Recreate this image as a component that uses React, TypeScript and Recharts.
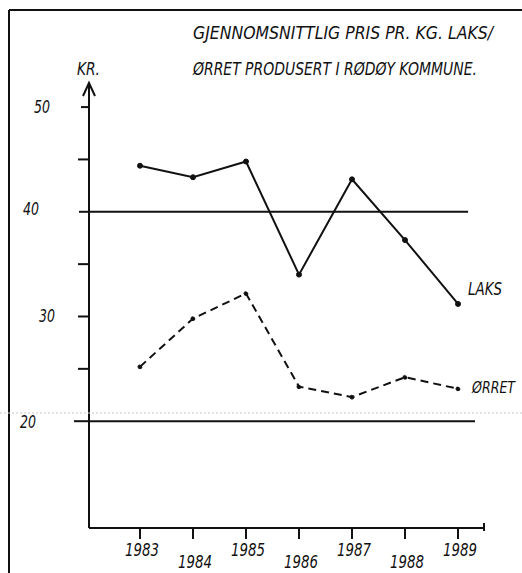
import React from 'react';
import { LineChart, Line, XAxis, YAxis, ReferenceLine, ReferenceDot } from 'recharts';

const years = [1983, 1984, 1985, 1986, 1987, 1988, 1989];
const laks = [44.4, 43.3, 44.8, 34.0, 43.1, 37.3, 31.2];
const orret = [25.2, 29.8, 32.2, 23.3, 22.3, 24.2, 23.1];
const yTicks = [20, 25, 30, 35, 40, 45, 50];
const yLabels = [20, 30, 40, 50];
const bandLines = [40, 20];
const titleLines = ['GJENNOMSNITTLIG PRIS PR. KG. LAKS/', 'ØRRET PRODUSERT I RØDØY KOMMUNE.'];
const unitLabel = 'KR.';
const seriesNames = ['LAKS', 'ØRRET'];

const X_DOMAIN: [number, number] = [1982.038, 1989.49];
const Y_DOMAIN: [number, number] = [9.8, 52.3];

const data = years.map((year, i) => ({ year, laks: laks[i], orret: orret[i] }));

const INK = '#111';
const FONT = "'Liberation Sans Narrow', 'DejaVu Sans Condensed', 'DejaVu Sans', sans-serif";

const textStyle = { fontFamily: FONT, fontStyle: 'italic' as const, fill: INK };

const YTick = (props: any) => {
  const { x, y, payload } = props;
  const v = payload.value;
  const lenMap: Record<number, number> = { 20: 15, 40: 10, 50: 8 };
  const len = lenMap[v] ?? 11;
  const dxMap: Record<number, number> = { 50: -47, 40: -58, 30: -42, 20: -61 };
  const dyMap: Record<number, number> = { 50: 6, 40: 3, 30: 6, 20: 7 };
  return (
    <g>
      <line x1={x - len} x2={x} y1={y} y2={y} stroke={INK} strokeWidth={2} />
      {yLabels.includes(v) && (
        <text x={x + dxMap[v]} y={y + dyMap[v]} textAnchor="middle" fontSize={18.5} textLength={16} lengthAdjust="spacingAndGlyphs" style={textStyle}>
          {v}
        </text>
      )}
    </g>
  );
};

const XTick = (props: any) => {
  const { x, y, payload, index } = props;
  const low = index % 2 === 1;
  return (
    <text x={x + 2} y={y + (low ? 29 : 17)} textAnchor="middle" fontSize={18} textLength={34} lengthAdjust="spacingAndGlyphs" style={textStyle}>
      {payload.value}
    </text>
  );
};

const ArrowHead = (props: any) => {
  const { cx, cy } = props;
  return <path d={`M${cx - 6},${cy + 13} L${cx},${cy} L${cx + 6},${cy + 13}`} fill="none" stroke={INK} strokeWidth={2} />;
};

const EndTick = (props: any) => {
  const { cx, cy } = props;
  return <line x1={cx} x2={cx} y1={cy - 5} y2={cy + 3} stroke={INK} strokeWidth={2} />;
};

const SeriesLabel = (text: string, dx: number, dy: number, w: number, fs: number) => (props: any) => {
  const { cx, cy } = props;
  return (
    <text x={cx + dx} y={cy + dy} fontSize={fs} textLength={w} lengthAdjust="spacingAndGlyphs" style={textStyle}>
      {text}
    </text>
  );
};

export default function App() {
  return (
    <div style={{ position: 'absolute', left: 0, top: 0, width: 522, height: 573, background: '#fff' }}>
      <LineChart width={522} height={573} data={data} margin={{ top: 83, right: 38, bottom: 0, left: 29 }}>
        <XAxis
          dataKey="year"
          type="number"
          domain={X_DOMAIN}
          ticks={years}
          allowDataOverflow
          height={45}
          tickSize={11}
          tickMargin={0}
          tickLine={{ stroke: INK, strokeWidth: 2 }}
          axisLine={{ stroke: INK, strokeWidth: 2 }}
          tick={<XTick />}
          interval={0}
        />
        <YAxis
          type="number"
          domain={Y_DOMAIN}
          ticks={yTicks}
          allowDataOverflow
          width={60}
          tickSize={0}
          tickMargin={0}
          tickLine={false}
          axisLine={{ stroke: INK, strokeWidth: 2 }}
          tick={<YTick />}
          interval={0}
        />
        <ReferenceLine segment={[{ x: X_DOMAIN[0], y: bandLines[0] }, { x: 1989.19, y: bandLines[0] }]} stroke={INK} strokeWidth={2} ifOverflow="visible" />
        <ReferenceLine segment={[{ x: X_DOMAIN[0], y: bandLines[1] }, { x: 1989.32, y: bandLines[1] }]} stroke={INK} strokeWidth={2} ifOverflow="visible" />
        <ReferenceDot x={X_DOMAIN[0]} y={Y_DOMAIN[1]} ifOverflow="visible" shape={ArrowHead} />
        <ReferenceDot x={X_DOMAIN[1]} y={Y_DOMAIN[0]} ifOverflow="visible" shape={EndTick} />
        <Line
          dataKey="laks"
          stroke={INK}
          strokeWidth={2}
          dot={{ r: 2.5, fill: INK, stroke: INK, strokeWidth: 1 }}
          isAnimationActive={false}
        />
        <Line
          dataKey="orret"
          stroke={INK}
          strokeWidth={2}
          strokeDasharray="8 5"
          dot={{ r: 2, fill: INK, stroke: INK, strokeWidth: 1 }}
          isAnimationActive={false}
        />
        <ReferenceDot x={years[6]} y={laks[6]} ifOverflow="visible" shape={SeriesLabel(seriesNames[0], 10, -9, 34, 17)} />
        <ReferenceDot x={years[6]} y={orret[6]} ifOverflow="visible" shape={SeriesLabel(seriesNames[1], 14, 4, 43, 15.5)} />
      </LineChart>
      <svg width={522} height={573} style={{ position: 'absolute', left: 0, top: 0, pointerEvents: 'none' }}>
        <line x1={9} x2={9} y1={10} y2={573} stroke={INK} strokeWidth={2} />
        <line x1={9} x2={522} y1={10} y2={10} stroke={INK} strokeWidth={2} />
        <line x1={0} x2={522} y1={413} y2={413} stroke="#c8c8c8" strokeWidth={1} strokeDasharray="2 2" />
        <text x={193} y={39} fontSize={17} textLength={300} lengthAdjust="spacingAndGlyphs" style={textStyle}>{titleLines[0]}</text>
        <text x={193} y={75} fontSize={17} textLength={284} lengthAdjust="spacingAndGlyphs" style={textStyle}>{titleLines[1]}</text>
        <text x={77} y={75} fontSize={17} textLength={23} lengthAdjust="spacingAndGlyphs" style={textStyle}>{unitLabel}</text>
      </svg>
    </div>
  );
}
